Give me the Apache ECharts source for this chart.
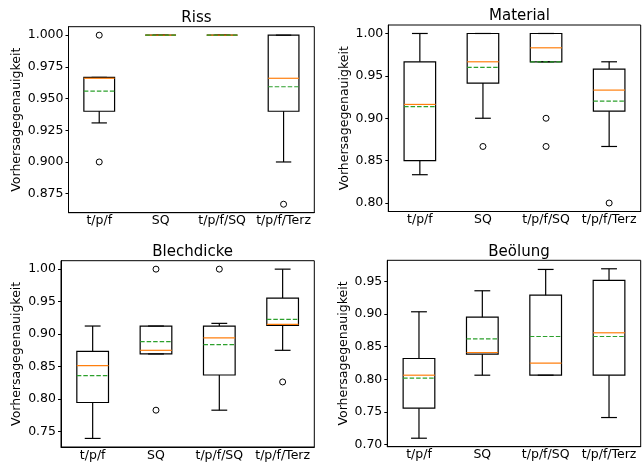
<!DOCTYPE html>
<html>
<head>
<meta charset="utf-8">
<script src="https://cdn.jsdelivr.net/npm/echarts@6/dist/echarts.min.js"></script>
<style>
  html, body { margin: 0; padding: 0; background: #fff; }
  #chart { width: 643px; height: 463px; }
</style>
</head>
<body>
<div id="chart"></div>
<script>
// kategorien (x-achse, gleich in allen vier plots)
const categories = ['t/p/f', 'SQ', 't/p/f/SQ', 't/p/f/Terz'];

// Riss
const rissLow = [0.9308, 1.0, 1.0, 0.9000];
const rissQ1 = [0.9400, 1.0, 1.0, 0.9400];
const rissMedian = [0.9660, 1.0, 1.0, 0.9660];
const rissQ3 = [0.9667, 1.0, 1.0, 1.0];
const rissHigh = [0.9667, 1.0, 1.0, 1.0];
const rissMean = [0.9559, 1.0, 1.0, 0.9593];
const rissOutliers = [[0, 1.0], [0, 0.9], [3, 0.8667]];
const rissTicks = [0.875, 0.9, 0.925, 0.95, 0.975, 1.0];

// Material
const materialLow = [0.8334, 0.9000, 0.9666, 0.8667];
const materialQ1 = [0.8500, 0.9415, 0.9666, 0.9084];
const materialMedian = [0.9163, 0.9666, 0.9831, 0.9332];
const materialQ3 = [0.9666, 1.0, 1.0, 0.9580];
const materialHigh = [1.0, 1.0, 1.0, 0.9666];
const materialMean = [0.9136, 0.9600, 0.9666, 0.9202];
const materialOutliers = [[1, 0.8667], [2, 0.9], [2, 0.8667], [3, 0.8]];
const materialTicks = [0.80, 0.85, 0.90, 0.95, 1.00];

// Blechdicke
const blechLow = [0.7393, 0.8694, 0.7828, 0.8750];
const blechQ1 = [0.7946, 0.8694, 0.8370, 0.9135];
const blechMedian = [0.8514, 0.8750, 0.8940, 0.9150];
const blechQ3 = [0.8735, 0.9124, 0.9124, 0.9554];
const blechHigh = [0.9124, 0.9124, 0.9165, 1.0];
const blechMean = [0.8360, 0.8883, 0.8837, 0.9226];
const blechOutliers = [[1, 1.0], [1, 0.7828], [2, 1.0], [3, 0.8263]];
const blechTicks = [0.75, 0.80, 0.85, 0.90, 0.95, 1.00];

// Beölung
const oelLow = [0.7097, 0.8063, 0.8063, 0.7414];
const oelQ1 = [0.7557, 0.8385, 0.8063, 0.8063];
const oelMedian = [0.8063, 0.8411, 0.8247, 0.8713];
const oelQ3 = [0.8319, 0.8953, 0.9290, 0.9515];
const oelHigh = [0.9035, 0.9357, 0.9684, 0.9694];
const oelMean = [0.8017, 0.8620, 0.8656, 0.8656];
const oelOutliers = [];
const oelTicks = [0.70, 0.75, 0.80, 0.85, 0.90, 0.95];

const FONT = 'DejaVu Sans';

const panels = [
  { title: 'Riss', low: rissLow, q1: rissQ1, med: rissMedian, q3: rissQ3, high: rissHigh, mean: rissMean,
    out: rissOutliers, ticks: rissTicks, dec: 3, min: 0.86, max: 1.00667,
    grid: { left: 68.5, top: 26.7, width: 245.8, height: 186 }, nameGap: 45, titleTop: 5.5 },
  { title: 'Material', low: materialLow, q1: materialQ1, med: materialMedian, q3: materialQ3, high: materialHigh, mean: materialMean,
    out: materialOutliers, ticks: materialTicks, dec: 2, min: 0.79, max: 1.01,
    grid: { left: 388.3, top: 25, width: 252.4, height: 186.5 }, nameGap: 37.5, titleTop: 4 },
  { title: 'Blechdicke', low: blechLow, q1: blechQ1, med: blechMedian, q3: blechQ3, high: blechHigh, mean: blechMean,
    out: blechOutliers, ticks: blechTicks, dec: 2, min: 0.7261, max: 1.0130,
    grid: { left: 61, top: 260.7, width: 253.3, height: 186.3 }, nameGap: 37.5, titleTop: 240 },
  { title: 'Beölung', low: oelLow, q1: oelQ1, med: oelMedian, q3: oelQ3, high: oelHigh, mean: oelMean,
    out: oelOutliers, ticks: oelTicks, dec: 2, min: 0.6967, max: 0.9824,
    grid: { left: 387.3, top: 260.3, width: 253.4, height: 186.4 }, nameGap: 37, titleTop: 240 }
];

// box, whisker, median und mittelwert selbst zeichnen (matplotlib-stil)
function renderBox (params, api) {
  const x = api.value(0);
  const band = api.size([1, 0])[0];
  const hw = band * 0.25;
  const cw = band * 0.125;
  const p = (v) => api.coord([x, v]);
  const pLow = p(api.value(1));
  const pQ1 = p(api.value(2));
  const pMed = p(api.value(3));
  const pQ3 = p(api.value(4));
  const pHigh = p(api.value(5));
  const pMean = p(api.value(6));
  const cx = pQ1[0];
  const black = { stroke: '#000', lineWidth: 1.2, fill: null };
  const line = (x1, y1, x2, y2, style) => ({ type: 'line', shape: { x1, y1, x2, y2 }, style });
  return {
    type: 'group',
    children: [
      line(cx, pQ1[1], cx, pLow[1], black),
      line(cx, pQ3[1], cx, pHigh[1], black),
      line(cx - cw, pLow[1], cx + cw, pLow[1], black),
      line(cx - cw, pHigh[1], cx + cw, pHigh[1], black),
      { type: 'rect', shape: { x: cx - hw, y: pQ3[1], width: hw * 2, height: pQ1[1] - pQ3[1] }, style: black },
      line(cx - hw, pMed[1], cx + hw, pMed[1], { stroke: '#ff7f0e', lineWidth: 1.2 }),
      line(cx - hw, pMean[1], cx + hw, pMean[1], { stroke: '#2ca02c', lineWidth: 1.2, lineDash: [4.5, 2] })
    ]
  };
}

const option = {
  backgroundColor: '#fff',
  animation: false,
  title: [],
  grid: [],
  xAxis: [],
  yAxis: [],
  series: []
};

panels.forEach((pn, i) => {
  const g = pn.grid;
  option.title.push({
    text: pn.title,
    left: g.left + g.width / 2,
    top: pn.titleTop,
    textAlign: 'center',
    textStyle: { fontFamily: FONT, fontSize: 15, fontWeight: 'normal', color: '#000' }
  });
  option.grid.push({
    left: g.left, top: g.top, width: g.width, height: g.height,
    show: true, borderColor: '#000', borderWidth: 1, backgroundColor: 'transparent'
  });
  option.xAxis.push({
    type: 'category',
    gridIndex: i,
    data: categories,
    boundaryGap: true,
    axisLine: { lineStyle: { color: '#000', width: 1 } },
    axisTick: { alignWithLabel: true, length: 3, lineStyle: { color: '#000' } },
    axisLabel: { fontFamily: FONT, fontSize: 12.5, color: '#000', margin: 2, interval: 0 },
    splitLine: { show: false }
  });
  option.yAxis.push({
    type: 'value',
    gridIndex: i,
    min: pn.min,
    max: pn.max,
    name: 'Vorhersagegenauigkeit',
    nameLocation: 'middle',
    nameRotate: 90,
    nameGap: pn.nameGap,
    nameTextStyle: { fontFamily: FONT, fontSize: 12.5, color: '#000' },
    axisLine: { show: true, lineStyle: { color: '#000', width: 1 } },
    axisTick: { show: true, length: 3, customValues: pn.ticks, lineStyle: { color: '#000' } },
    axisLabel: {
      fontFamily: FONT, fontSize: 12.5, color: '#000', margin: 5,
      customValues: pn.ticks,
      formatter: (v) => v.toFixed(pn.dec)
    },
    splitLine: { show: false }
  });
  option.series.push({
    type: 'custom',
    xAxisIndex: i,
    yAxisIndex: i,
    renderItem: renderBox,
    encode: { x: 0, y: [1, 2, 3, 4, 5, 6] },
    data: categories.map((c, k) => [k, pn.low[k], pn.q1[k], pn.med[k], pn.q3[k], pn.high[k], pn.mean[k]]),
    z: 2
  });
  option.series.push({
    type: 'scatter',
    xAxisIndex: i,
    yAxisIndex: i,
    symbol: 'circle',
    symbolSize: 6,
    itemStyle: { color: 'rgba(0,0,0,0)', borderColor: '#000', borderWidth: 1, opacity: 1 },
    data: pn.out,
    z: 3
  });
});

const myChart = echarts.init(document.getElementById('chart'), null, { renderer: 'canvas' });
myChart.setOption(option);
</script>
</body>
</html>
